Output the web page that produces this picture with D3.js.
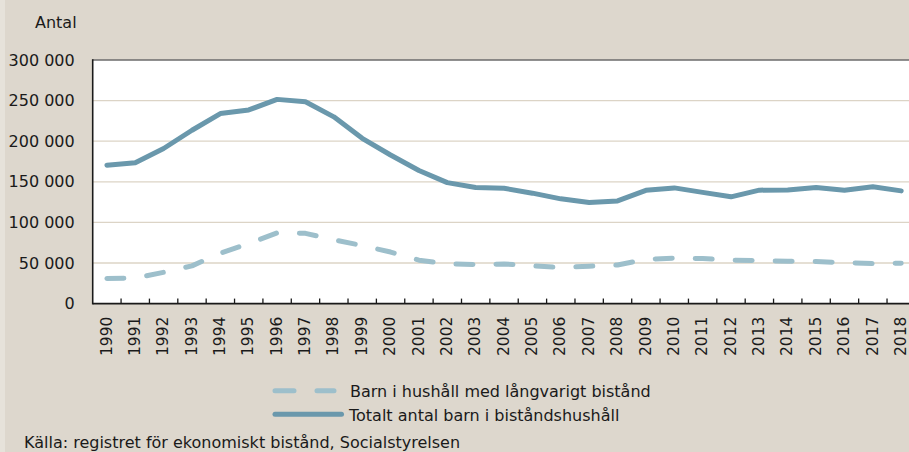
<!DOCTYPE html>
<html><head><meta charset="utf-8">
<script src="https://cdn.jsdelivr.net/npm/d3@7"></script>
<style>
html,body{margin:0;padding:0;background:#DDD7CD;}
svg{display:block;}
text{font-family:"DejaVu Sans",sans-serif;fill:#1a1a1a;}
</style></head><body>
<svg id="c" width="909" height="452"></svg>
<script>
const years = ["1990","1991","1992","1993","1994","1995","1996","1997","1998","1999","2000","2001","2002","2003","2004","2005","2006","2007","2008","2009","2010","2011","2012","2013","2014","2015","2016","2017","2018"];
const totalt = [170500,173500,191000,213500,234000,238500,251500,248500,230000,203500,183000,164000,149000,143000,142000,136000,129000,124500,126500,139500,142500,137000,131500,139700,140000,143000,139700,143800,138800];
const langvarigt = [31000,31500,38500,46500,62000,74000,87000,86500,78500,71500,63500,53500,49000,48000,48800,46500,44500,46000,47500,54500,56000,55500,53400,53000,52100,51800,50500,49300,49700];
const yTicks = [0,50000,100000,150000,200000,250000,300000];
const seriesNames = ["Barn i hushåll med långvarigt bistånd","Totalt antal barn i biståndshushåll"];
const yLabel = "Antal";
const source = "Källa: registret för ekonomiskt bistånd, Socialstyrelsen";

const svg = d3.select("#c");
const L = 92.7, R = 915.4, T = 60, B = 303.6;
const solidCol = "#6A98AC", dashCol = "#9DBFCB";

svg.append("rect").attr("x",0).attr("y",0).attr("width",909).attr("height",452).attr("fill","#DDD7CD");
svg.append("rect").attr("x",0).attr("y",0).attr("width",5).attr("height",452).attr("fill","#E6E2DA");

const x = d3.scaleBand().domain(years).range([L,R]).padding(0);
const y = d3.scaleLinear().domain([0,300000]).range([B,T]);
const fmt = v => d3.format(",")(v).replace(/,/g," ");

svg.append("rect").attr("x",L).attr("y",T).attr("width",R-L).attr("height",B-T).attr("fill","#ffffff");

// gridlines
svg.append("g").selectAll("line").data(yTicks.filter(v=>v>0 && v<300000)).join("line")
  .attr("x1",L).attr("x2",R).attr("y1",d=>y(d)).attr("y2",d=>y(d))
  .attr("stroke","#DCD4C6").attr("stroke-width",1.3);

// top border
svg.append("line").attr("x1",L).attr("x2",R).attr("y1",y(300000)).attr("y2",y(300000))
  .attr("stroke","#6b6b6b").attr("stroke-width",1.6);

// y axis
const ya = svg.append("g").attr("transform",`translate(${L},0)`)
  .call(d3.axisLeft(y).tickValues(yTicks).tickFormat(fmt).tickSize(0).tickPadding(18));
ya.select(".domain").remove();
ya.selectAll("text").attr("font-size","16px").attr("fill","#1a1a1a").attr("font-family","DejaVu Sans, sans-serif");

// x axis labels
const xa = svg.append("g").attr("transform",`translate(0,${B})`)
  .call(d3.axisBottom(x).tickSize(0));
xa.select(".domain").remove();
xa.selectAll("text").attr("font-size","15.5px").attr("fill","#1a1a1a").attr("font-family","DejaVu Sans, sans-serif")
  .attr("transform","rotate(-90)").attr("text-anchor","end")
  .attr("x",-13).attr("y",0).attr("dy","0.3em");

// x ticks at band boundaries (pointing up)
svg.append("g").selectAll("line").data(years.slice(1)).join("line")
  .attr("x1",d=>x(d)).attr("x2",d=>x(d)).attr("y1",B).attr("y2",B-5)
  .attr("stroke","#1a1a1a").attr("stroke-width",1.3);

// axes lines
svg.append("line").attr("x1",L).attr("x2",R).attr("y1",B).attr("y2",B).attr("stroke","#1a1a1a").attr("stroke-width",1.6);
svg.append("line").attr("x1",L).attr("x2",L).attr("y1",T-0.8).attr("y2",B+0.8).attr("stroke","#1a1a1a").attr("stroke-width",1.6);

const cx = d => x(d) + x.bandwidth()/2;
const line = arr => d3.line().x((d,i)=>cx(years[i])).y(d=>y(d))(arr);

svg.append("path").attr("d",line(langvarigt)).attr("fill","none").attr("stroke",dashCol)
  .attr("stroke-width",5).attr("stroke-linecap","round").attr("stroke-linejoin","round")
  .attr("stroke-dasharray","17,23");
svg.append("path").attr("d",line(totalt)).attr("fill","none").attr("stroke",solidCol)
  .attr("stroke-width",5).attr("stroke-linejoin","round").attr("stroke-linecap","round");

// y label
svg.append("text").attr("x",35).attr("y",28).attr("font-size","16px").text(yLabel);

// legend
const lg = svg.append("g");
lg.append("line").attr("x1",275).attr("x2",334).attr("y1",390.7).attr("y2",390.7)
  .attr("stroke",dashCol).attr("stroke-width",5).attr("stroke-linecap","round").attr("stroke-dasharray","19,23");
lg.append("text").attr("x",350).attr("y",397).attr("font-size","16px").text(seriesNames[0]);
lg.append("line").attr("x1",275).attr("x2",341.5).attr("y1",414.3).attr("y2",414.3)
  .attr("stroke",solidCol).attr("stroke-width",5).attr("stroke-linecap","round");
lg.append("text").attr("x",349).attr("y",421).attr("font-size","16px").text(seriesNames[1]);

svg.append("text").attr("x",24).attr("y",448).attr("font-size","16px").text(source);
</script>
</body></html>
